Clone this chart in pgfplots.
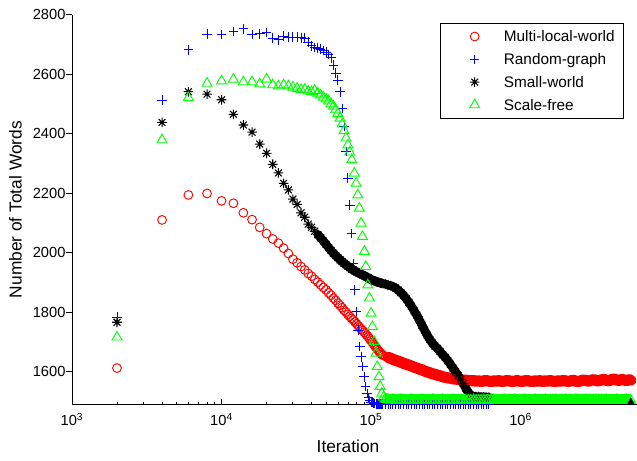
\documentclass[border=0pt]{standalone}
\usepackage{fontspec}
\setmainfont{Liberation Sans}
\usepackage{pgfplots}
\usepackage{pgfplotstable}
\pgfplotsset{compat=1.18}

% eight-armed star marker (a plus and a cross on top of each other)
\pgfdeclareplotmark{mstar}{%
  \pgfpathmoveto{\pgfqpoint{-\pgfplotmarksize}{0pt}}%
  \pgfpathlineto{\pgfqpoint{\pgfplotmarksize}{0pt}}%
  \pgfpathmoveto{\pgfqpoint{0pt}{-\pgfplotmarksize}}%
  \pgfpathlineto{\pgfqpoint{0pt}{\pgfplotmarksize}}%
  \pgfpathmoveto{\pgfqpoint{-0.7071\pgfplotmarksize}{-0.7071\pgfplotmarksize}}%
  \pgfpathlineto{\pgfqpoint{0.7071\pgfplotmarksize}{0.7071\pgfplotmarksize}}%
  \pgfpathmoveto{\pgfqpoint{-0.7071\pgfplotmarksize}{0.7071\pgfplotmarksize}}%
  \pgfpathlineto{\pgfqpoint{0.7071\pgfplotmarksize}{-0.7071\pgfplotmarksize}}%
  \pgfusepathqstroke}

% Multi-local-world
\pgfplotstableread{
x y
2000 1612
4000 2110
6000 2194
8000 2199
10000 2174
12000 2166
14000 2134
16000 2111
18000 2085
20000 2064
22000 2046
24000 2032
26000 2015
28000 1997
30000 1978
32000 1966
34000 1953
36000 1942
38000 1930
40000 1921
42000 1910
44000 1901
46000 1892
48000 1883
50000 1875
52000 1865
54000 1857
56000 1847
58000 1840
60000 1830
62000 1823
64000 1815
66000 1806
68000 1800
70000 1792
72000 1786
74000 1779
76000 1774
78000 1767
80000 1761
82000 1754
84000 1749
86000 1743
88000 1738
90000 1732
92000 1727
94000 1721
96000 1716
98000 1710
100000 1704
102000 1698
104000 1692
106000 1686
108000 1681
110000 1675
112000 1670
114000 1666
116000 1662
118000 1658
120000 1655
125000 1651
130000 1648
135000 1645
140000 1641
146000 1638
152000 1635
158000 1632
165000 1628
172000 1625
179000 1622
186000 1619
194000 1615
202000 1612
210000 1609
219000 1606
228000 1602
237000 1599
247000 1596
257000 1593
267000 1591
278000 1588
289000 1586
301000 1583
313000 1581
326000 1579
339000 1578
353000 1576
367000 1575
382000 1574
397000 1573
413000 1571
430000 1571
447000 1570
465000 1569
484000 1570
503000 1568
523000 1569
544000 1567
566000 1569
589000 1570
613000 1568
638000 1567
663000 1569
690000 1568
718000 1570
746000 1567
776000 1568
807000 1570
840000 1569
873000 1567
908000 1568
945000 1570
983000 1568
1020000 1567
1060000 1569
1100000 1570
1150000 1568
1200000 1567
1250000 1569
1300000 1568
1350000 1570
1400000 1567
1460000 1569
1520000 1568
1580000 1570
1640000 1568
1710000 1567
1780000 1569
1850000 1568
1920000 1570
2000000 1569
2080000 1567
2160000 1569
2250000 1571
2340000 1568
2430000 1567
2530000 1569
2630000 1572
2740000 1570
2850000 1568
2960000 1571
3080000 1573
3200000 1570
3330000 1569
3460000 1572
3600000 1574
3740000 1571
3890000 1569
4050000 1573
4210000 1575
4380000 1572
4550000 1570
4730000 1574
4920000 1572
5120000 1570
5320000 1573
5450000 1571
}\mlw

% Random-graph
\pgfplotstableread{
x y
2000 1783
4000 2513
6000 2682
8000 2735
10000 2733
12000 2744
14000 2752
16000 2733
18000 2736
20000 2740
22000 2721
24000 2715
26000 2728
28000 2724
30000 2724
32000 2725
34000 2722
36000 2721
38000 2708
40000 2695
42000 2690
44000 2688
46000 2684
48000 2680
50000 2674
52000 2666
54000 2655
56000 2630
58000 2603
60000 2580
62000 2541
64000 2485
66000 2424
68000 2340
70000 2250
72000 2160
74000 2065
76000 1964
78000 1875
80000 1802
82000 1740
84000 1684
86000 1650
88000 1617
90000 1583
92000 1550
94000 1527
96000 1512
98000 1503
100000 1498
102000 1496
104000 1494
106000 1493
108000 1492
110000 1492
112000 1491
114000 1492
116000 1491
118000 1491
120000 1491
125000 1491
130000 1492
135000 1491
140000 1491
146000 1491
152000 1492
158000 1491
165000 1491
172000 1491
179000 1492
186000 1491
194000 1491
202000 1491
210000 1491
219000 1492
228000 1491
237000 1491
247000 1491
257000 1491
267000 1492
278000 1491
289000 1491
301000 1491
313000 1491
326000 1492
339000 1491
353000 1491
367000 1491
382000 1491
397000 1491
413000 1492
430000 1491
447000 1491
465000 1491
484000 1491
503000 1491
523000 1492
544000 1491
566000 1491
589000 1491
613000 1491
}\rgr

% Small-world
\pgfplotstableread{
x y
2000 1766
4000 2438
6000 2541
8000 2533
10000 2514
12000 2465
14000 2429
16000 2405
18000 2365
20000 2334
22000 2297
24000 2268
26000 2233
28000 2211
30000 2180
32000 2162
34000 2134
36000 2119
38000 2096
40000 2085
42000 2072
44000 2061
46000 2050
48000 2039
50000 2028
52000 2017
54000 2007
56000 1998
58000 1990
60000 1983
62000 1976
64000 1970
66000 1964
68000 1959
70000 1954
72000 1950
74000 1945
76000 1942
78000 1938
80000 1935
82000 1932
84000 1930
86000 1927
88000 1925
90000 1922
92000 1920
94000 1917
96000 1915
98000 1912
100000 1909
102000 1908
104000 1906
106000 1905
108000 1903
110000 1902
112000 1900
114000 1899
116000 1898
118000 1897
120000 1896
125000 1894
130000 1891
135000 1889
140000 1886
146000 1881
152000 1874
158000 1866
165000 1856
172000 1845
179000 1833
186000 1820
194000 1805
202000 1790
210000 1774
219000 1756
228000 1739
237000 1723
247000 1708
257000 1696
267000 1686
278000 1678
289000 1668
301000 1657
313000 1648
326000 1637
339000 1625
353000 1612
367000 1600
382000 1587
397000 1574
413000 1560
430000 1544
447000 1530
465000 1520
484000 1517
503000 1516
523000 1516
544000 1515
566000 1515
589000 1514
613000 1514
}\smw

% Scale-free
\pgfplotstableread{
x y
2000 1716
4000 2379
6000 2521
8000 2569
10000 2577
12000 2583
14000 2574
16000 2574
18000 2567
20000 2583
22000 2564
24000 2560
26000 2564
28000 2560
30000 2556
32000 2552
34000 2548
36000 2549
38000 2543
40000 2541
42000 2545
44000 2536
46000 2530
48000 2522
50000 2516
52000 2510
54000 2500
56000 2492
58000 2480
60000 2468
62000 2452
64000 2432
66000 2410
68000 2385
70000 2362
72000 2338
74300 2312
77300 2267
79400 2233
81500 2194
83500 2149
85800 2099
87500 2054
90200 2004
92200 1953
95000 1891
97500 1847
100000 1796
102000 1751
105000 1701
108000 1662
110000 1617
113000 1583
115000 1550
118000 1527
121000 1514
124000 1508
127000 1506
130000 1505
135000 1504
140000 1505
146000 1504
152000 1504
158000 1505
165000 1504
172000 1504
179000 1504
186000 1505
194000 1504
202000 1504
210000 1504
219000 1505
228000 1504
237000 1504
247000 1504
257000 1505
267000 1504
278000 1504
289000 1504
301000 1505
313000 1504
326000 1504
339000 1504
353000 1505
367000 1504
382000 1504
397000 1504
413000 1505
430000 1504
447000 1504
465000 1504
484000 1505
503000 1504
523000 1504
544000 1504
566000 1505
589000 1504
613000 1504
638000 1504
663000 1505
690000 1504
718000 1504
746000 1504
776000 1505
807000 1504
840000 1504
873000 1504
908000 1505
945000 1504
983000 1504
1020000 1504
1060000 1505
1100000 1504
1150000 1504
1200000 1504
1250000 1505
1300000 1504
1350000 1504
1400000 1504
1460000 1505
1520000 1504
1580000 1504
1640000 1504
1710000 1505
1780000 1504
1850000 1504
1920000 1504
2000000 1505
2080000 1504
2160000 1504
2250000 1504
2340000 1505
2430000 1504
2530000 1504
2630000 1504
2740000 1505
2850000 1504
2960000 1504
3080000 1504
3200000 1505
3330000 1504
3460000 1504
3600000 1504
3740000 1505
3890000 1504
4050000 1504
4210000 1504
4380000 1505
4550000 1504
4730000 1504
4920000 1504
5120000 1505
5320000 1504
5450000 1504
}\sfr

% converged small-world level
\pgfplotstableread{
x y
110000 1497
5450000 1497
}\smwend

\begin{document}
\begin{tikzpicture}
\begin{axis}[
  at={(0pt,0pt)}, anchor=south west,
  scale only axis, width=423.75pt, height=292.5pt,
  xmode=log, xmin=1000, xmax=6000000, ymin=1489, ymax=2800,
  axis x line*=bottom, axis y line*=left,
  axis line style={-, black, line width=0.6pt},
  tick align=inside, major tick length=4.5pt, minor tick length=2.25pt,
  tick style={black, line width=0.6pt},
  xtick={1000,10000,100000,1000000},
  xticklabels={10\textsuperscript{3},10\textsuperscript{4},10\textsuperscript{5},10\textsuperscript{6}},
  minor xtick={2000,3000,4000,5000,6000,7000,8000,9000,
    20000,30000,40000,50000,60000,70000,80000,90000,
    200000,300000,400000,500000,600000,700000,800000,900000,
    2000000,3000000,4000000,5000000,6000000},
  ytick={1600,1800,2000,2200,2400,2600,2800},
  yticklabels={1600,1800,2000,2200,2400,2600,2800},
  ytick style={xshift=-4.5pt},
  xticklabel style={inner sep=0pt, anchor=north, yshift=-6.2pt, font=\fontsize{11}{13}\selectfont},
  yticklabel style={inner sep=0pt, anchor=east, xshift=-4.7pt, font=\fontsize{11}{13}\selectfont},
  xlabel={Iteration}, ylabel={Number of Total Words},
  xlabel style={at={(axis description cs:0.4885,-0.1077)}, anchor=center, inner sep=0pt, font=\fontsize{13}{15}\selectfont},
  ylabel style={at={(axis description cs:-0.1,0.5)}, anchor=center, inner sep=0pt, font=\fontsize{13}{15}\selectfont},
  legend style={at={(0.9765,0.9787)}, anchor=north east, draw=black, line width=0.6pt, fill=white,
    inner xsep=6.5pt, inner ysep=5.35pt, row sep=8.1pt, column sep=3pt,
    font=\fontsize{11.5}{13.8}\selectfont,
    nodes={inner sep=0pt, text height=8.5pt, text depth=0.5pt}},
  legend cell align=left,
  legend image code/.code={\path (0pt,0pt) (37pt,0pt); \draw[#1] plot coordinates {(18.5pt,0pt)};},
]
% Multi-local-world: markers, and the dense tail where they merge into a band
\addplot[only marks, mark=o, red, mark size=3.3pt, line width=0.7pt] table {\mlw};
\addlegendentry{Multi-local-world}
\addplot[red, line width=8.4pt, line cap=round, line join=round, mark=none, forget plot,
  skip coords between index={0}{61}] table {\mlw};
% Random-graph
\addplot[only marks, mark=+, blue, mark size=3.6pt, line width=0.7pt] table {\rgr};
\addlegendentry{Random-graph}
% Small-world
\addplot[only marks, mark=mstar, black, mark size=3.6pt, line width=0.8pt] table {\smw};
\addlegendentry{Small-world}
\addplot[black, line width=6.5pt, line cap=round, line join=round, mark=none, forget plot,
  skip coords between index={0}{21}] table {\smw};
% Scale-free
\addplot[only marks, mark=triangle, green, mark size=4.3pt, line width=0.7pt] table {\sfr};
\addlegendentry{Scale-free}
\addplot[green, line width=7.1pt, line join=round, mark=none, forget plot, yshift=1.1pt,
  skip coords between index={0}{56}] table {\sfr};
\addplot[black, line width=0.6pt, mark=none, forget plot] table {\smwend};
\addplot[black, only marks, mark=triangle*, mark size=2.6pt, forget plot] coordinates {(5450000,1499)};
\end{axis}
\pgfresetboundingbox
\path[use as bounding box] (-54pt,-42.2pt) rectangle (423.75pt,303.5pt);
\end{tikzpicture}
\end{document}
